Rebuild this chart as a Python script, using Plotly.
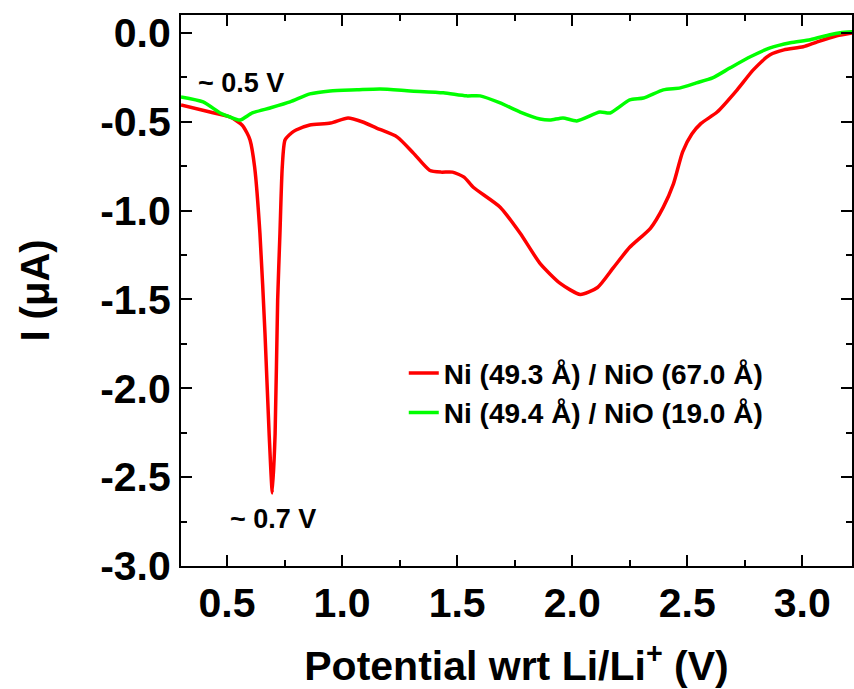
import plotly.graph_objects as go

# Red series: Ni (49.3 Å) / NiO (67.0 Å)
red_x = [0.30, 0.426, 0.513, 0.565, 0.587, 0.60, 0.62, 0.643, 0.665, 0.683, 0.697,
         0.709, 0.72, 0.73, 0.74, 0.752, 0.78, 0.80, 0.86, 0.95, 1.026, 1.09, 1.15,
         1.24, 1.31, 1.38, 1.43, 1.48, 1.53, 1.57, 1.687, 1.774, 1.86, 1.948, 2.035,
         2.11, 2.18, 2.25, 2.34, 2.396, 2.44, 2.48, 2.52, 2.56, 2.63, 2.717, 2.787,
         2.86, 2.92, 3.004, 3.065, 3.15, 3.22]
red_y = [-0.406, -0.446, -0.474, -0.519, -0.564, -0.603, -0.756, -1.128, -1.692, -2.256, -2.589,
         -2.256, -1.506, -1.128, -0.756, -0.603, -0.564, -0.547, -0.519, -0.508, -0.479, -0.502, -0.536,
         -0.587, -0.677, -0.773, -0.784, -0.784, -0.812, -0.869, -0.981, -1.128, -1.297, -1.410, -1.472,
         -1.433, -1.320, -1.207, -1.100, -0.981, -0.850, -0.670, -0.570, -0.510, -0.446, -0.321, -0.209,
         -0.124, -0.096, -0.079, -0.051, -0.017, 0.0]

# Green series: Ni (49.4 Å) / NiO (19.0 Å)
green_x = [0.30, 0.396, 0.47, 0.513, 0.557, 0.61, 0.687, 0.774, 0.86, 0.948, 1.065, 1.165,
           1.296, 1.44, 1.54, 1.60, 1.687, 1.774, 1.86, 1.904, 1.96, 2.02, 2.12, 2.165,
           2.25, 2.31, 2.396, 2.47, 2.54, 2.61, 2.687, 2.774, 2.86, 2.948, 3.035, 3.12,
           3.165, 3.22]
green_y = [-0.361, -0.389, -0.451, -0.474, -0.491, -0.451, -0.423, -0.389, -0.344, -0.327, -0.321, -0.316,
           -0.327, -0.338, -0.355, -0.355, -0.395, -0.446, -0.485, -0.491, -0.479, -0.496, -0.446, -0.451,
           -0.378, -0.367, -0.321, -0.310, -0.282, -0.254, -0.197, -0.135, -0.085, -0.056, -0.039, -0.011,
           0.0, 0.006]

series_names = ["Ni (49.3 Å) / NiO (67.0 Å)", "Ni (49.4 Å) / NiO (19.0 Å)"]
x_ticks = [0.5, 1.0, 1.5, 2.0, 2.5, 3.0]
y_ticks = [0.0, -0.5, -1.0, -1.5, -2.0, -2.5, -3.0]

FONT = "Liberation Sans, Arial, sans-serif"

fig = go.Figure()
fig.add_trace(go.Scatter(x=red_x, y=red_y, mode="lines", name=series_names[0],
                         line=dict(color="#FF0000", width=3.5, shape="spline", smoothing=0.6)))
fig.add_trace(go.Scatter(x=green_x, y=green_y, mode="lines", name=series_names[1],
                         line=dict(color="#00FF00", width=3.5, shape="spline", smoothing=0.6)))

axis_common = dict(
    showgrid=False, zeroline=False, showline=True, linecolor="black", linewidth=2,
    mirror="ticks", ticks="inside", ticklen=11, tickwidth=2, tickcolor="black",
    tickfont=dict(family=FONT, size=41, color="black", weight="bold"),
)

fig.update_xaxes(
    range=[0.3, 3.216], tickvals=x_ticks, ticktext=[f"{v:.1f}" for v in x_ticks],
    minor=dict(ticks="inside", ticklen=6, tickwidth=2, tickcolor="black", dtick=0.25, tick0=0.25),
    title=dict(text="Potential wrt Li/Li<sup>+</sup> (V)", standoff=26,
               font=dict(family=FONT, size=41, color="black", weight="bold")),
    **axis_common,
)
fig.update_yaxes(
    range=[-3.0, 0.1], tickvals=y_ticks, ticktext=[f"{v:.1f}" for v in y_ticks],
    minor=dict(ticks="inside", ticklen=6, tickwidth=2, tickcolor="black", dtick=0.25, tick0=0.25),
    title=dict(text="I (μA)", standoff=38,
               font=dict(family=FONT, size=40, color="black", weight="bold")),
    **axis_common,
)

fig.add_annotation(x=0.56, y=-0.28, text="~ 0.5 V", showarrow=False, xanchor="center",
                   font=dict(family=FONT, size=27, color="black", weight="bold"))
fig.add_annotation(x=0.70, y=-2.735, text="~ 0.7 V", showarrow=False, xanchor="center",
                   font=dict(family=FONT, size=27, color="black", weight="bold"))

fig.update_layout(
    width=854, height=689,
    margin=dict(l=181, r=0, t=15, b=123),
    paper_bgcolor="white", plot_bgcolor="white",
    showlegend=True,
    legend=dict(x=0.332, y=0.395, xanchor="left", yanchor="top",
                bgcolor="rgba(0,0,0,0)", borderwidth=0,
                font=dict(family=FONT, size=28, color="black", weight="bold"),
                tracegroupgap=0),
)

fig.write_html("out.html")
